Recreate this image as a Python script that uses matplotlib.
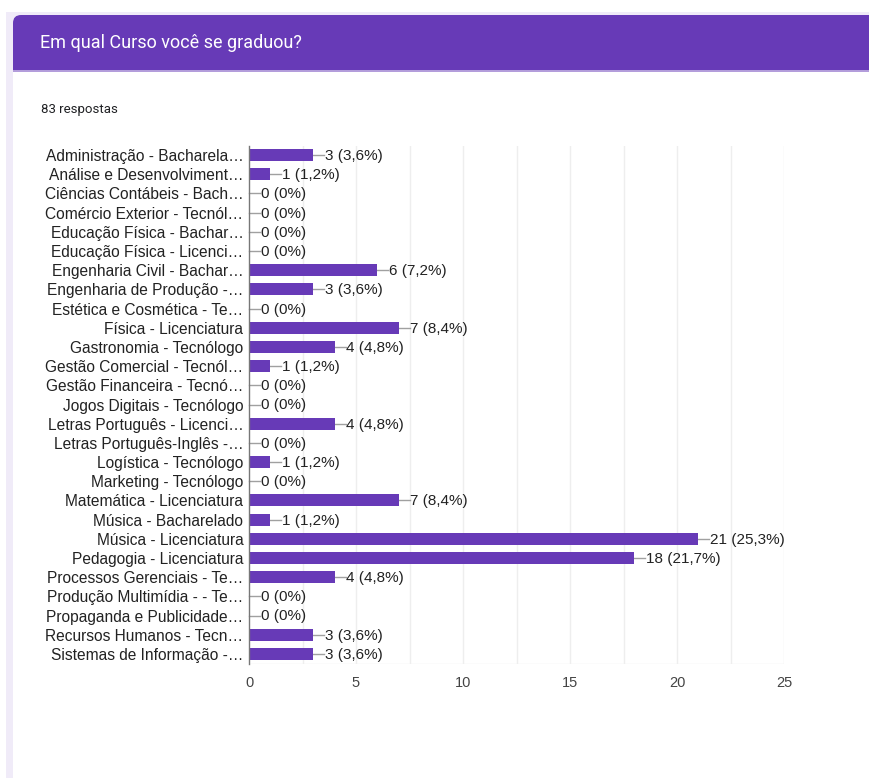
import matplotlib
matplotlib.use("Agg")
import matplotlib.pyplot as plt
from matplotlib.patches import FancyBboxPatch, Rectangle

# ---------------------------------------------------------------------------
# data
# ---------------------------------------------------------------------------
TITLE = "Em qual Curso você se graduou?"
TOTAL = 83
CURSOS = [
    "Administração - Bacharela…",
    "Análise e Desenvolviment…",
    "Ciências Contábeis - Bach…",
    "Comércio Exterior - Tecnól…",
    "Educação Física - Bachar…",
    "Educação Física - Licenci…",
    "Engenharia Civil - Bachar…",
    "Engenharia de Produção -…",
    "Estética e Cosmética - Te…",
    "Física - Licenciatura",
    "Gastronomia - Tecnólogo",
    "Gestão Comercial - Tecnól…",
    "Gestão Financeira - Tecnó…",
    "Jogos Digitais - Tecnólogo",
    "Letras Português - Licenci…",
    "Letras Português-Inglês -…",
    "Logística - Tecnólogo",
    "Marketing - Tecnólogo",
    "Matemática - Licenciatura",
    "Música - Bacharelado",
    "Música - Licenciatura",
    "Pedagogia - Licenciatura",
    "Processos Gerenciais - Te…",
    "Produção Multimídia - - Te…",
    "Propaganda e Publicidade…",
    "Recursos Humanos - Tecn…",
    "Sistemas de Informação -…",
]
RESPOSTAS = [3, 1, 0, 0, 0, 0, 6, 3, 0, 7, 4, 1, 0, 0, 4, 0, 1, 0, 7, 1,
             21, 18, 4, 0, 0, 3, 3]
XTICKS = [0, 5, 10, 15, 20, 25]

PURPLE = "#673AB7"
PAGE_BG = "#F0EBF8"
FONT = ["Liberation Sans", "DejaVu Sans"]

W, H = 869, 778
fig = plt.figure(figsize=(W / 100, H / 100), dpi=100)

# --- page / card background in pixel coordinates ---------------------------
bg = fig.add_axes([0, 0, 1, 1])
bg.set_xlim(0, W)
bg.set_ylim(H, 0)
bg.axis("off")
bg.add_patch(Rectangle((6, 12), W, H, facecolor=PAGE_BG, lw=0))
bg.add_patch(FancyBboxPatch((13, 15), W + 40, H + 40,
                            boxstyle="round,pad=0,rounding_size=8",
                            facecolor="white", lw=0))
# purple header: rounded top corners, square bottom
bg.add_patch(FancyBboxPatch((13, 15), W + 40, 40,
                            boxstyle="round,pad=0,rounding_size=8",
                            facecolor=PURPLE, lw=0))
bg.add_patch(Rectangle((13, 35), W, 35, facecolor=PURPLE, lw=0))
bg.add_patch(Rectangle((13, 70), W, 1.5, facecolor="#B39DDB", lw=0))
bg.text(40, 43, TITLE, color="white", fontsize=13, va="center", ha="left",
        family=["Roboto", "DejaVu Sans"])
bg.text(41, 109, "%d respostas" % TOTAL, color="#202124", fontsize=9.5,
        va="center", ha="left", family=["Roboto", "DejaVu Sans"])

# --- bar chart ----------------------------------------------------------------
x0, x1, y0, y1 = 249, 784, 145.5, 663.5
ax = fig.add_axes([x0 / W, 1 - y1 / H, (x1 - x0) / W, (y1 - y0) / H])
n = len(CURSOS)
ypos = list(range(n))
ax.barh(ypos, RESPOSTAS, height=0.63, color=PURPLE, zorder=3)
ax.set_ylim(n - 0.5, -0.5)
ax.set_xlim(0, 25)

for g in [2.5 * k for k in range(1, 11)]:
    ax.axvline(g, color="#EEEEEE", lw=1, zorder=1)
ax.axhline(n - 0.5, color="#EEEEEE", lw=1, zorder=1)

unit = (x1 - x0) / 25.0  # px per unit
lead = 11 / unit
for y, v in zip(ypos, RESPOSTAS):
    ax.plot([v, v + lead], [y, y], color="#A0A0A0", lw=1, zorder=2,
            clip_on=False)
    pct = ("%.1f" % (100.0 * v / TOTAL)).replace(".", ",")
    if v == 0:
        pct = "0"
    ax.text(v + lead + 0.03, y + 0.05, "%d (%s%%)" % (v, pct), va="center",
            ha="left", fontsize=11, color="#222222", family=FONT,
            clip_on=False)

ax.set_yticks(ypos)
ax.set_yticklabels(CURSOS, fontsize=11.2, color="#222222", family=FONT)
ax.set_xticks(XTICKS)
ax.set_xticklabels([str(t) for t in XTICKS], fontsize=10.5, color="#444444",
                   family=FONT)
ax.tick_params(axis="y", length=0, pad=4)
ax.tick_params(axis="x", length=0, pad=9)
for s in ("top", "right", "bottom"):
    ax.spines[s].set_visible(False)
ax.spines["left"].set_color("#777777")
ax.spines["left"].set_linewidth(1)
ax.spines["left"].set_zorder(4)
ax.set_facecolor("none")

fig.savefig("out.png", dpi=100)
